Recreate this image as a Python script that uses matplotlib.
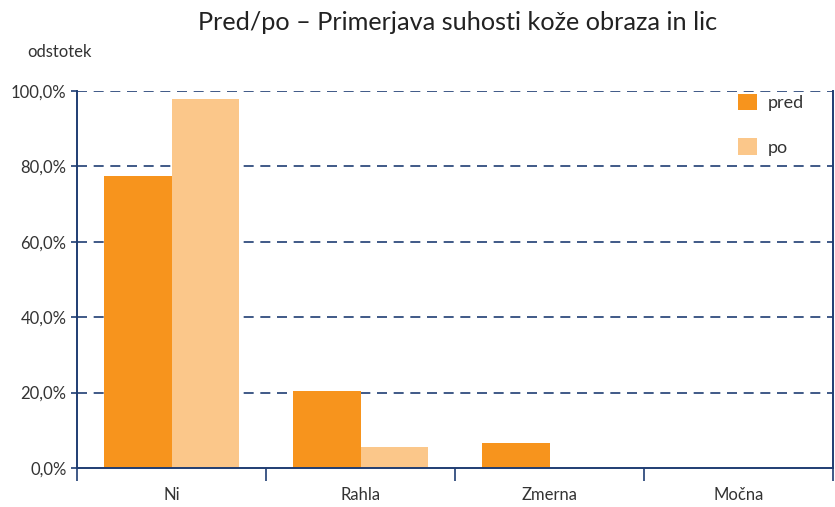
#!/usr/bin/env python3

import numpy as np
import matplotlib
matplotlib.use('Agg')
import matplotlib.pyplot as plt
from matplotlib.ticker import FuncFormatter, FixedLocator

categories = ['Ni', 'Rahla', 'Zmerna', 'Močna']
pred = [77.5, 20.3, 6.5, 0.0]
po = [98.0, 5.7, 0.0, 0.0]
series_labels = ['pred', 'po']

plt.rcParams['font.family'] = ['Lato', 'DejaVu Sans']

navy = '#1f3d73'
orange = '#f7941d'
light = '#fbc78a'

fig = plt.figure(figsize=(8.35, 5.07), dpi=100)
ax = fig.add_axes([77/835, 1-468/507, 756/835, 377/507])

x = np.arange(len(categories))
w = 0.355
ax.bar(x - w/2, pred, w, color=orange, label=series_labels[0])
ax.bar(x + w/2, po, w, color=light, label=series_labels[1])

ax.set_xlim(-0.5, len(categories) - 0.5)
ax.set_ylim(0, 100)
ax.set_yticks(np.arange(0, 101, 20))
ax.yaxis.set_major_formatter(FuncFormatter(lambda v, p: f'{v:.1f}%'.replace('.', ',')))
for yv in np.arange(20, 101, 20):
    ax.axhline(yv, color=navy, lw=1.2, ls=(0, (6, 4)), zorder=0)

ax.set_xticks(x)
ax.set_xticklabels(categories)
ax.xaxis.set_minor_locator(FixedLocator(np.arange(-0.5, len(categories), 1)))
ax.tick_params(axis='x', which='major', length=0, pad=14, labelsize=12, labelcolor='#333333')
ax.tick_params(axis='x', which='minor', length=9, width=1.2, color=navy)
ax.tick_params(axis='y', length=4, width=1.2, color=navy, labelsize=12, labelcolor='#333333')

for s in ['left', 'bottom', 'right']:
    ax.spines[s].set_color(navy)
    ax.spines[s].set_linewidth(1.4)
ax.spines['top'].set_visible(False)

fig.text(0.548, 0.955, 'Pred/po – Primerjava suhosti kože obraza in lic',
         ha='center', va='center', fontsize=18.2, color='#222222')
fig.text(27/835, 1-52/507, 'odstotek', ha='left', va='center', fontsize=12, color='#333333')

ax.legend(loc='upper right', bbox_to_anchor=(0.983, 1.036), frameon=False,
          fontsize=13, handlelength=1.05, handleheight=1.05, labelspacing=1.5,
          handletextpad=0.6, labelcolor='#333333')

plt.savefig('out.png', dpi=100)
